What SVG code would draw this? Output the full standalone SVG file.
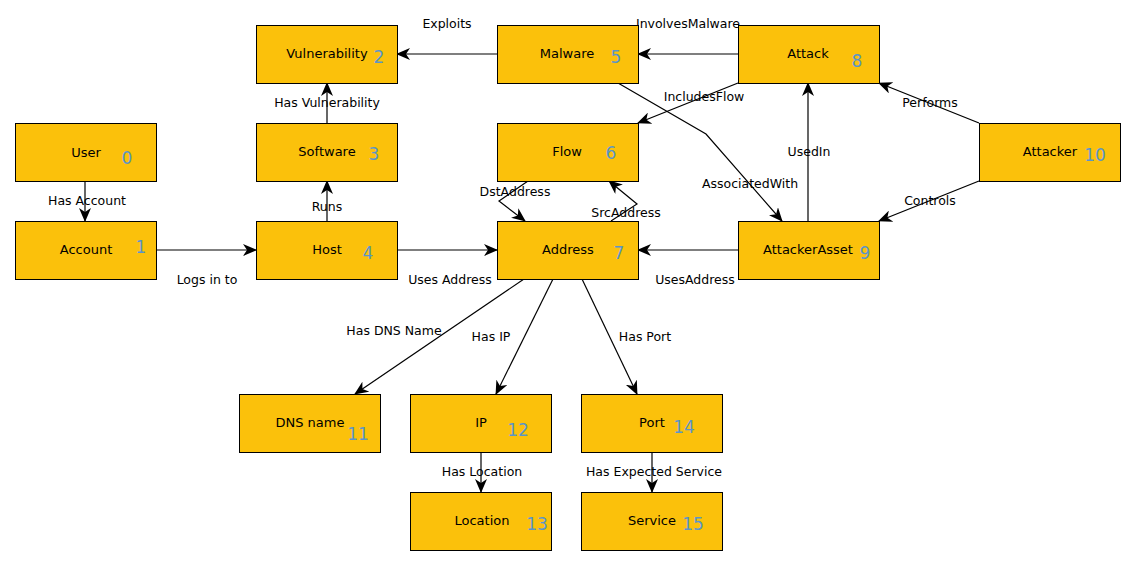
<svg xmlns="http://www.w3.org/2000/svg" width="1135" height="565" viewBox="0 0 1135 565">
<defs>
<marker id="ah" markerUnits="userSpaceOnUse" markerWidth="14" markerHeight="12" viewBox="0 0 14 12" refX="13" refY="6" orient="auto">
<path d="M0,0 L14,6 L0,12 L4,6 z" fill="#000"/>
</marker>
<style>
.box{fill:#fbc10b;stroke:#000;stroke-width:1}
.t{font-family:"DejaVu Sans",sans-serif;font-size:13px;fill:#000;text-anchor:middle}
.n{font-family:"DejaVu Sans",sans-serif;font-size:17px;fill:#5b95c8;text-anchor:middle}
.e{fill:none;stroke:#000;stroke-width:1.2;marker-end:url(#ah)}
.l{font-family:"DejaVu Sans",sans-serif;font-size:12.5px;fill:#000;text-anchor:middle}
</style>
</defs>
<rect width="1135" height="565" fill="#fff"/>
<g id="connectors">
<line class="e" x1="85" y1="181" x2="85" y2="221"/>
<line class="e" x1="156" y1="250" x2="256" y2="250"/>
<line class="e" x1="327" y1="221" x2="327" y2="181"/>
<line class="e" x1="327" y1="123" x2="327" y2="83"/>
<line class="e" x1="497" y1="54" x2="397" y2="54"/>
<line class="e" x1="738" y1="54" x2="638" y2="54"/>
<line class="e" x1="738" y1="83" x2="638" y2="123"/>
<polyline class="e" points="618,83 706,134 782,221"/>
<line class="e" x1="808" y1="221" x2="808" y2="83"/>
<line class="e" x1="979" y1="123" x2="879" y2="83"/>
<line class="e" x1="979" y1="181" x2="879" y2="221"/>
<polyline class="e" points="528,181 499,201 525,221"/>
<polyline class="e" points="611,221 637,204 609,181"/>
<line class="e" x1="397" y1="250" x2="497" y2="250"/>
<line class="e" x1="738" y1="250" x2="638" y2="250"/>
<line class="e" x1="524" y1="279" x2="355" y2="394"/>
<line class="e" x1="553" y1="279" x2="496" y2="394"/>
<line class="e" x1="582" y1="279" x2="637" y2="394"/>
<line class="e" x1="481" y1="452" x2="481" y2="492"/>
<line class="e" x1="652" y1="452" x2="652" y2="492"/>
<text class="l" x="87" y="205">Has Account</text>
<text class="l" x="207" y="284">Logs in to</text>
<text class="l" x="327" y="211">Runs</text>
<text class="l" x="327" y="107">Has Vulnerability</text>
<text class="l" x="447" y="28">Exploits</text>
<text class="l" x="688" y="28">InvolvesMalware</text>
<text class="l" x="704" y="101">IncludesFlow</text>
<text class="l" x="750" y="188">AssociatedWith</text>
<text class="l" x="809" y="156">UsedIn</text>
<text class="l" x="930" y="107">Performs</text>
<text class="l" x="930" y="205">Controls</text>
<text class="l" x="515" y="196">DstAddress</text>
<text class="l" x="626" y="217">SrcAddress</text>
<text class="l" x="450" y="284">Uses Address</text>
<text class="l" x="695" y="284">UsesAddress</text>
<text class="l" x="394" y="335">Has DNS Name</text>
<text class="l" x="491" y="341">Has IP</text>
<text class="l" x="645" y="341">Has Port</text>
<text class="l" x="482" y="476">Has Location</text>
<text class="l" x="654" y="476">Has Expected Service</text>
</g>
<g id="n0"><rect class="box" x="15.5" y="123.5" width="141" height="58"/><text class="t" x="86" y="157">User</text><text class="n" x="127" y="164">0</text></g>
<g id="n1"><rect class="box" x="15.5" y="221.5" width="141" height="58"/><text class="t" x="86" y="254">Account</text><text class="n" x="141" y="253">1</text></g>
<g id="n2"><rect class="box" x="256.5" y="25.5" width="141" height="58"/><text class="t" x="327" y="58">Vulnerability</text><text class="n" x="379" y="63">2</text></g>
<g id="n3"><rect class="box" x="256.5" y="123.5" width="141" height="58"/><text class="t" x="327" y="156">Software</text><text class="n" x="374" y="160">3</text></g>
<g id="n4"><rect class="box" x="256.5" y="221.5" width="141" height="58"/><text class="t" x="327" y="254">Host</text><text class="n" x="368" y="259">4</text></g>
<g id="n5"><rect class="box" x="497.5" y="25.5" width="141" height="58"/><text class="t" x="567" y="58">Malware</text><text class="n" x="616" y="63">5</text></g>
<g id="n6"><rect class="box" x="497.5" y="123.5" width="141" height="58"/><text class="t" x="567" y="156">Flow</text><text class="n" x="611" y="159">6</text></g>
<g id="n7"><rect class="box" x="497.5" y="221.5" width="141" height="58"/><text class="t" x="568" y="254">Address</text><text class="n" x="619" y="259">7</text></g>
<g id="n8"><rect class="box" x="738.5" y="25.5" width="141" height="58"/><text class="t" x="808" y="58">Attack</text><text class="n" x="857" y="67">8</text></g>
<g id="n9"><rect class="box" x="738.5" y="221.5" width="141" height="58"/><text class="t" x="808" y="254">AttackerAsset</text><text class="n" x="865" y="259">9</text></g>
<g id="n10"><rect class="box" x="979.5" y="123.5" width="141" height="58"/><text class="t" x="1050" y="156">Attacker</text><text class="n" x="1095" y="161">10</text></g>
<g id="n11"><rect class="box" x="239.5" y="394.5" width="141" height="58"/><text class="t" x="310" y="427">DNS name</text><text class="n" x="358" y="440">11</text></g>
<g id="n12"><rect class="box" x="410.5" y="394.5" width="141" height="58"/><text class="t" x="481" y="427">IP</text><text class="n" x="518" y="436">12</text></g>
<g id="n13"><rect class="box" x="410.5" y="492.5" width="141" height="58"/><text class="t" x="482" y="525">Location</text><text class="n" x="537" y="530">13</text></g>
<g id="n14"><rect class="box" x="581.5" y="394.5" width="141" height="58"/><text class="t" x="652" y="427">Port</text><text class="n" x="684" y="433">14</text></g>
<g id="n15"><rect class="box" x="581.5" y="492.5" width="141" height="58"/><text class="t" x="652" y="525">Service</text><text class="n" x="693" y="530">15</text></g>
</svg>
